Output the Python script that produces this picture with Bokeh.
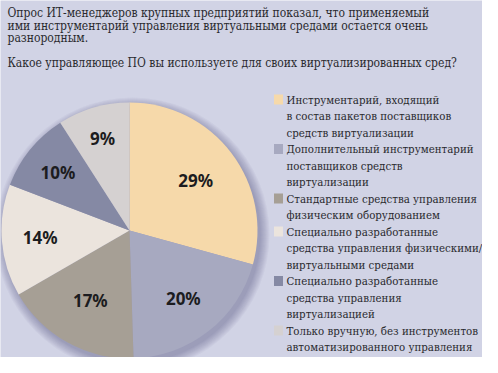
import math
from bokeh.plotting import figure
from bokeh.models import Range1d, ColumnDataSource
from bokeh.core.properties import value
from bokeh.embed import file_html
from bokeh.resources import INLINE

title_lines = [
    "Опрос ИТ-менеджеров крупных предприятий показал, что применяемый",
    "ими инструментарий управления виртуальными средами остается очень",
    "разнородным.",
]
question = "Какое управляющее ПО вы используете для своих виртуализированных сред?"

categories = [
    ["Инструментарий, входящий", "в состав пакетов поставщиков", "средств виртуализации"],
    ["Дополнительный инструментарий", "поставщиков средств", "виртуализации"],
    ["Стандартные средства управления", "физическим оборудованием"],
    ["Специально разработанные", "средства управления физическими/", "виртуальными средами"],
    ["Специально разработанные", "средства управления", "виртуализацией"],
    ["Только вручную, без инструментов", "автоматизированного управления"],
]
shares = [29, 20, 17, 14, 10, 9]

colors = ["#f6d9aa", "#a7a9c0", "#a69f95", "#ebe4dd", "#8589a4", "#d5d1d1"]
label_r_frac = [0.65, 0.68, 0.63, 0.70, 0.72, 0.75]

BG = "#d1d3e5"
TXT = "#2a2a2e"
W, H = 482, 357

def px(x):
    return x

def py(y):
    return H - y

p = figure(width=W, height=H, x_range=Range1d(0, W), y_range=Range1d(0, H),
           output_backend="svg", toolbar_location=None, min_border=0,
           background_fill_color=BG, border_fill_color=BG, outline_line_color=None)
p.axis.visible = False
p.grid.visible = False

# pie geometry
cx, cy, R = px(129), py(230), 128
total = sum(shares)
starts, ends, lx, ly, labels = [], [], [], [], []
cum = 0.0
for v, f in zip(shares, label_r_frac):
    a0 = math.pi / 2 - 2 * math.pi * cum / total
    cum += v
    a1 = math.pi / 2 - 2 * math.pi * cum / total
    starts.append(a0)
    ends.append(a1)
    mid = (a0 + a1) / 2
    lx.append(cx + f * R * math.cos(mid))
    ly.append(cy + f * R * math.sin(mid))
    labels.append(f"{v}%")

# soft shadow
for i in range(10):
    p.circle(x=cx + 3, y=cy - 4, radius=R + 9 - i,
             fill_color="#4a4d6a", fill_alpha=0.045, line_color=None)

src = ColumnDataSource(dict(start=starts, end=ends, color=colors, lx=lx, ly=ly, label=labels))
p.wedge(x=cx, y=cy, radius=R, start_angle="start", end_angle="end", direction="clock",
        fill_color="color", line_color=None, source=src)
p.text(x="lx", y="ly", text="label", source=src, text_font=value("Noto Sans"),
       text_font_style="bold", text_font_size="17px", text_color="#1c1c20",
       text_align="center", text_baseline="middle")

# title
ty = [12, 25, 37]
p.text(x=[px(7)] * 3, y=[py(v) for v in ty], text=title_lines,
       text_font=value("DejaVu Serif Condensed"), text_font_size="12px",
       text_color=TXT, text_baseline="middle")
p.text(x=[px(7)], y=[py(62)], text=[question],
       text_font=value("DejaVu Serif Condensed"), text_font_size="12px",
       text_color=TXT, text_baseline="middle")

# legend
line0, step = 99, 16.5
lines_x, lines_y, lines_t, sq_x, sq_y = [], [], [], [], []
k = 0
for cat in categories:
    sq_x.append(px(278))
    sq_y.append(py(line0 + k * step))
    for t in cat:
        lines_x.append(px(286))
        lines_y.append(py(line0 + k * step))
        lines_t.append(t)
        k += 1
p.rect(x=sq_x, y=sq_y, width=9, height=10, fill_color=colors, line_color=None)
p.text(x=lines_x, y=lines_y, text=lines_t, text_font=value("DejaVu Serif Condensed"),
       text_font_size="11.4px", text_color=TXT, text_baseline="middle")

open("out.html", "w").write(file_html(p, INLINE))
